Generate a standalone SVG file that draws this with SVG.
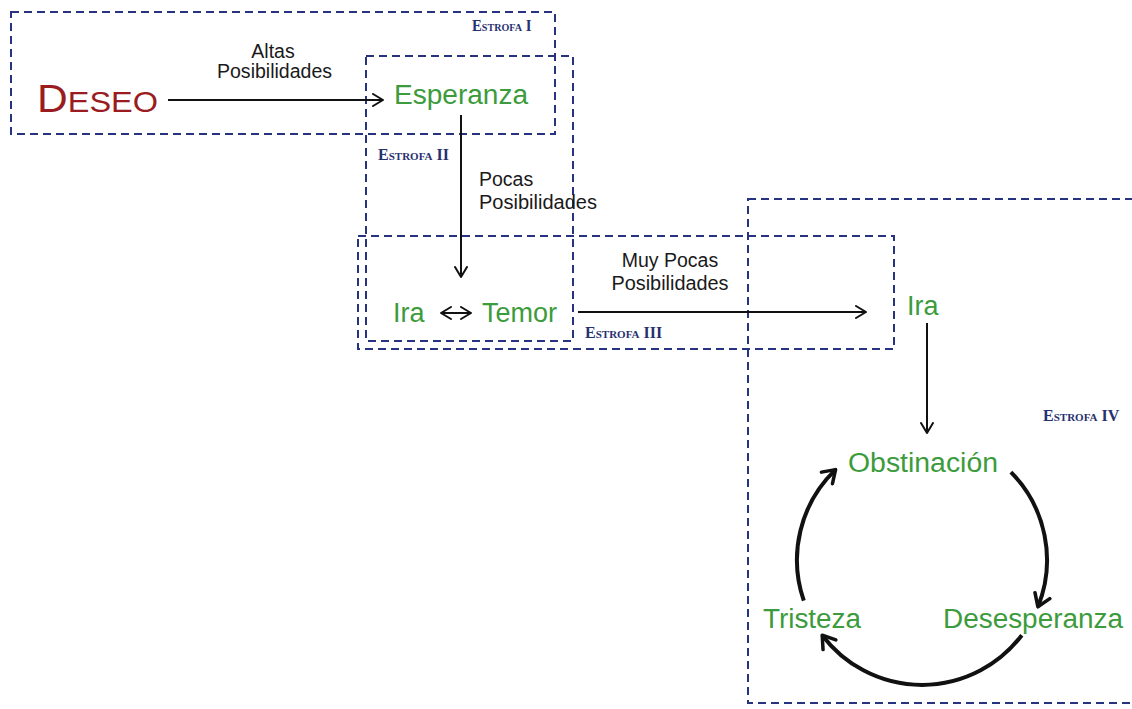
<svg xmlns="http://www.w3.org/2000/svg" width="1132" height="709" viewBox="0 0 1132 709">
  <style>
    .frame { fill: none; stroke: #27337f; stroke-width: 2; stroke-dasharray: 8 5; }
    .emo { font-family: "Liberation Sans", Arial, sans-serif; font-size: 27px; fill: #3c9b3c; }
    .note { font-family: "Liberation Sans", Arial, sans-serif; font-size: 19.5px; fill: #1a1a1a; }
    .stanza { font-family: "Liberation Serif", "Times New Roman", serif; font-weight: bold; fill: #27306f; }
    .big { font-size: 16px; }
    .small { font-size: 11px; }
    .link { fill: none; stroke: #111; stroke-width: 2; }
    .cycle { fill: none; stroke: #111; stroke-width: 4; }
  </style>
  <defs>
    <marker id="chev" markerUnits="userSpaceOnUse" viewBox="0 0 12 14" refX="11" refY="7" markerWidth="12" markerHeight="14" orient="auto-start-reverse">
      <path d="M1,1 L11,7 L1,13" fill="none" stroke="#111" stroke-width="2" stroke-linecap="round" stroke-linejoin="round"/>
    </marker>
    <marker id="chevBig" markerUnits="userSpaceOnUse" viewBox="0 0 16 20" refX="14" refY="10" markerWidth="16" markerHeight="20" orient="auto">
      <path d="M2,2 L14,10 L2,18" fill="none" stroke="#111" stroke-width="3.5" stroke-linecap="round" stroke-linejoin="round"/>
    </marker>
  </defs>

  <rect width="1132" height="709" fill="#ffffff"/>

  <!-- stanza frames -->
  <g id="frames">
    <rect id="estrofa-1" class="frame" x="11" y="12" width="544" height="122"/>
    <rect id="estrofa-2" class="frame" x="366" y="56" width="207" height="285"/>
    <rect id="estrofa-3" class="frame" x="358" y="236" width="536" height="113"/>
    <rect id="estrofa-4" class="frame" x="748" y="199" width="420" height="504"/>
  </g>

  <!-- stanza labels (small caps) -->
  <g id="stanza-labels">
    <text class="stanza" transform="translate(472,31) scale(0.92,1)"><tspan class="big">E</tspan><tspan class="small">STROFA</tspan><tspan class="big"> I</tspan></text>
    <text class="stanza" x="378" y="160" fill="#3b4a94"><tspan class="big">E</tspan><tspan class="small">STROFA</tspan><tspan class="big"> II</tspan></text>
    <text class="stanza" x="585" y="338"><tspan class="big">E</tspan><tspan class="small">STROFA</tspan><tspan class="big"> III</tspan></text>
    <text class="stanza" x="1043" y="421"><tspan class="big">E</tspan><tspan class="small">STROFA</tspan><tspan class="big"> IV</tspan></text>
  </g>

  <!-- connectors -->
  <g id="connectors">
    <path class="link" d="M168,100 L383,100" marker-end="url(#chev)"/>
    <path class="link" d="M461,115 L461,277" marker-end="url(#chev)"/>
    <path class="link" d="M441,313 L471,313" marker-start="url(#chev)" marker-end="url(#chev)"/>
    <path class="link" d="M578,312 L866,312" marker-end="url(#chev)"/>
    <path class="link" d="M927,323 L927,433" marker-end="url(#chev)"/>
    <path class="cycle" d="M1010.9,472.1 A125,125 0 0 1 1037.9,606.8" marker-end="url(#chevBig)"/>
    <path class="cycle" d="M1021.8,635.2 A125,125 0 0 1 822.2,635.2" marker-end="url(#chevBig)"/>
    <path class="cycle" d="M803.8,600.7 A125,125 0 0 1 835.6,469.6" marker-end="url(#chevBig)"/>
  </g>

  <!-- edge notes -->
  <g id="notes">
    <text class="note" x="273" y="58" text-anchor="middle">Altas</text>
    <text class="note" x="274.5" y="78" text-anchor="middle" textLength="115" lengthAdjust="spacingAndGlyphs">Posibilidades</text>
    <text class="note" x="479" y="186">Pocas</text>
    <text class="note" x="479" y="209" textLength="118" lengthAdjust="spacingAndGlyphs">Posibilidades</text>
    <text class="note" x="670" y="267" text-anchor="middle">Muy Pocas</text>
    <text class="note" x="670" y="290" text-anchor="middle" textLength="117" lengthAdjust="spacingAndGlyphs">Posibilidades</text>
  </g>

  <!-- nodes -->
  <g id="deseo">
    <text x="37" y="112" font-family="'Liberation Sans', Arial, sans-serif" fill="#9a1b20" textLength="121" lengthAdjust="spacingAndGlyphs"><tspan font-size="38">D</tspan><tspan font-size="29">ESEO</tspan></text>
  </g>
  <g id="esperanza">
    <text class="emo" x="394" y="104" textLength="134" lengthAdjust="spacingAndGlyphs">Esperanza</text>
  </g>
  <g id="ira-1">
    <text class="emo" x="393" y="322">Ira</text>
  </g>
  <g id="temor">
    <text class="emo" x="482" y="322">Temor</text>
  </g>
  <g id="ira-2">
    <text class="emo" x="907" y="315">Ira</text>
  </g>
  <g id="obstinacion">
    <text class="emo" x="848" y="472" textLength="150" lengthAdjust="spacingAndGlyphs">Obstinación</text>
  </g>
  <g id="desesperanza">
    <text class="emo" x="943" y="628" textLength="180" lengthAdjust="spacingAndGlyphs">Desesperanza</text>
  </g>
  <g id="tristeza">
    <text class="emo" x="763" y="628" textLength="98" lengthAdjust="spacingAndGlyphs">Tristeza</text>
  </g>
</svg>
